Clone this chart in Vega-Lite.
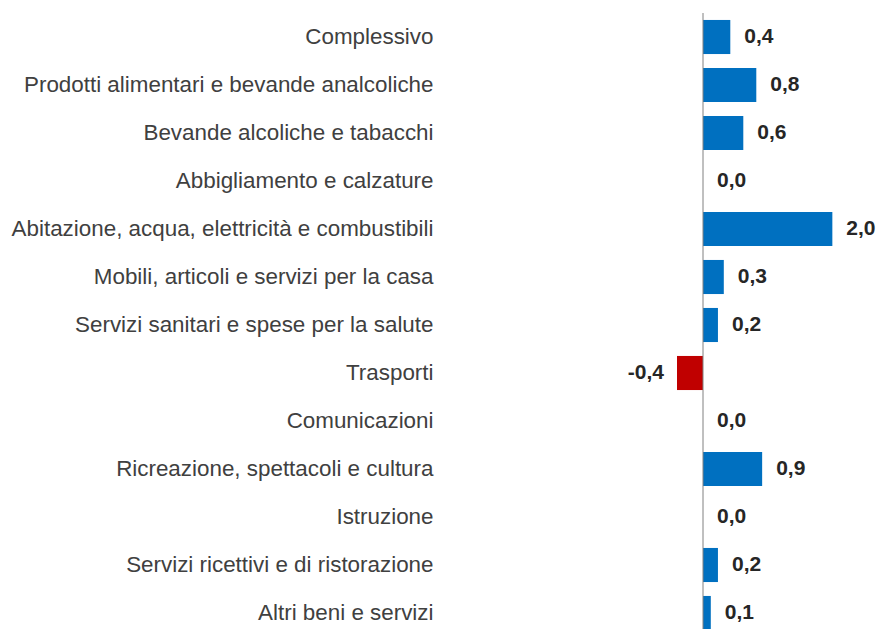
{
  "$schema": "https://vega.github.io/schema/vega-lite/v6.json",
  "width": 273,
  "height": 624,
  "autosize": "none",
  "padding": {"left": 573, "top": 13, "right": 32, "bottom": 0},
  "background": "white",
  "config": {
    "view": {"stroke": null},
    "locale": {"number": {"decimal": ",", "thousands": ".", "grouping": [3], "currency": ["€", ""], "minus": "-"}}
  },
  "data": {
    "values": [
      {"categoria": "Complessivo", "valore": 0.42},
      {"categoria": "Prodotti alimentari e bevande analcoliche", "valore": 0.82},
      {"categoria": "Bevande alcoliche e tabacchi", "valore": 0.62},
      {"categoria": "Abbigliamento e calzature", "valore": 0.0},
      {"categoria": "Abitazione, acqua, elettricità e combustibili", "valore": 1.99},
      {"categoria": "Mobili, articoli e servizi per la casa", "valore": 0.32},
      {"categoria": "Servizi sanitari e spese per la salute", "valore": 0.23},
      {"categoria": "Trasporti", "valore": -0.4},
      {"categoria": "Comunicazioni", "valore": 0.0},
      {"categoria": "Ricreazione, spettacoli e cultura", "valore": 0.91},
      {"categoria": "Istruzione", "valore": 0.0},
      {"categoria": "Servizi ricettivi e di ristorazione", "valore": 0.23},
      {"categoria": "Altri beni e servizi", "valore": 0.12}
    ]
  },
  "encoding": {
    "y": {
      "field": "categoria",
      "type": "nominal",
      "sort": null,
      "scale": {"paddingInner": 0.29, "paddingOuter": 0.145},
      "axis": {
        "title": null,
        "domain": false,
        "ticks": false,
        "labelPadding": 140,
        "labelFont": "Liberation Sans",
        "labelFontSize": 22.4,
        "labelColor": "#404040",
        "labelLimit": 600
      }
    }
  },
  "layer": [
    {
      "mark": {"type": "bar"},
      "encoding": {
        "x": {
          "field": "valore",
          "type": "quantitative",
          "scale": {"domain": [-2, 2.2], "nice": false, "zero": false},
          "axis": null
        },
        "color": {
          "condition": {"test": "datum.valore < 0", "value": "#C00000"},
          "value": "#0070C0"
        }
      }
    },
    {
      "mark": {"type": "rule", "color": "#808080", "strokeWidth": 1},
      "data": {"values": [{"zero": 0}]},
      "encoding": {
        "x": {"field": "zero", "type": "quantitative"},
        "y": {"value": 0},
        "y2": {"value": 624}
      }
    },
    {
      "transform": [{"filter": "datum.valore >= 0"}],
      "mark": {"type": "text", "align": "left", "dx": 14, "font": "Liberation Sans", "fontSize": 21, "fontWeight": "bold", "color": "#262626"},
      "encoding": {
        "x": {"field": "valore", "type": "quantitative"},
        "text": {"field": "valore", "type": "quantitative", "format": ".1f"}
      }
    },
    {
      "transform": [{"filter": "datum.valore < 0"}],
      "mark": {"type": "text", "align": "right", "dx": -13, "font": "Liberation Sans", "fontSize": 21, "fontWeight": "bold", "color": "#262626"},
      "encoding": {
        "x": {"field": "valore", "type": "quantitative"},
        "text": {"field": "valore", "type": "quantitative", "format": ".1f"}
      }
    }
  ]
}
